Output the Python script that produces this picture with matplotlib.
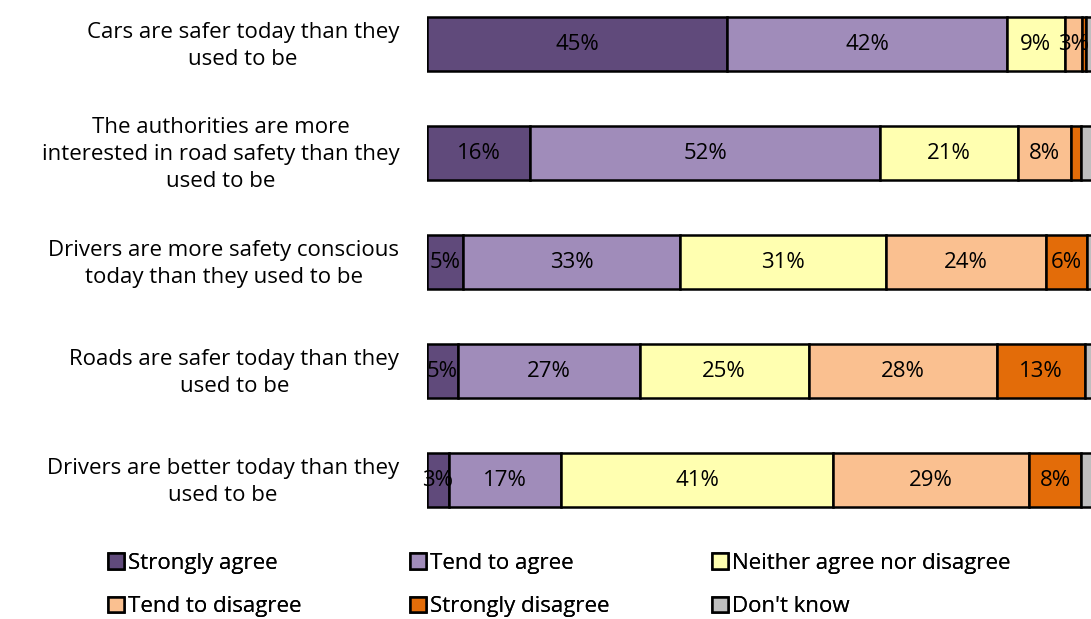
import matplotlib.pyplot as plt
import matplotlib.transforms as mtransforms
import numpy as np

plt.rcParams['font.family'] = ['Open Sans', 'DejaVu Sans']

# statements, top to bottom
statements = [
    "Cars are safer today than they\nused to be",
    "The authorities are more\ninterested in road safety than they\nused to be",
    "Drivers are more safety conscious\ntoday than they used to be",
    "Roads are safer today than they\nused to be",
    "Drivers are better today than they\nused to be",
]

responses = ["Strongly agree", "Tend to agree", "Neither agree nor disagree",
             "Tend to disagree", "Strongly disagree", "Don't know"]
colors = ["#604A7B", "#A08CBA", "#FFFFB0", "#FAC090", "#E36C09", "#BFBFBF"]

# percentages per response (one value per statement)
strongly_agree = [45.0, 15.5, 5.4, 4.6, 3.3]
tend_agree = [42.0, 52.4, 32.6, 27.3, 16.8]
neither = [8.6, 20.7, 30.8, 25.3, 40.8]
tend_disagree = [2.6, 7.9, 24.0, 28.2, 29.4]
strongly_disagree = [0.6, 1.5, 6.1, 13.2, 7.8]
dont_know = [1.2, 2.0, 1.1, 1.4, 1.9]

series = [strongly_agree, tend_agree, neither, tend_disagree,
          strongly_disagree, dont_know]

FS = 16

fig = plt.figure(figsize=(10.91, 6.19), dpi=100)
ax = fig.add_axes([0.3914, 0.1365, 0.6113, 0.880])

y = np.arange(len(statements))
left = np.zeros(len(statements))
bars = []
for name, vals, col in zip(responses, series, colors):
    b = ax.barh(y, vals, left=left, height=0.5, color=col,
                edgecolor="black", linewidth=1.8, label=name)
    bars.append(b)
    for yi, v, l in zip(y, vals, left):
        if v >= 2.5:
            ax.text(l + v / 2, yi, f"{round(v)}%", ha="center", va="center",
                    fontsize=FS, color="black")
    left = left + np.array(vals)

ax.set_xlim(0, 100)
ax.set_ylim(len(statements) - 0.5, -0.5)
ax.set_yticks(y)
ax.set_yticklabels(statements, fontsize=FS, multialignment="center",
                   linespacing=1.38)
ax.tick_params(axis="y", length=0, pad=20)
ax.set_xticks([])
for s in ax.spines.values():
    s.set_visible(False)

# nudge the category labels up a little so they sit centred on the bars
shift = mtransforms.ScaledTranslation(0, 4 / 100, fig.dpi_scale_trans)
for lab in ax.get_yticklabels():
    lab.set_transform(lab.get_transform() + shift)

# legend: three columns placed by hand, filled row-wise like the original
col_x = [0.099, 0.3758, 0.6526]
for j, xj in enumerate(col_x):
    idx = [j, j + 3]
    lg = fig.legend([bars[i] for i in idx], [responses[i] for i in idx],
                    loc="upper left", bbox_to_anchor=(xj, 0.1066),
                    frameon=False, fontsize=FS, handlelength=0.7,
                    handleheight=0.7, handletextpad=0.22, labelspacing=1.0,
                    borderaxespad=0, borderpad=0)
    fig.add_artist(lg)

fig.savefig("out.png", dpi=100)
